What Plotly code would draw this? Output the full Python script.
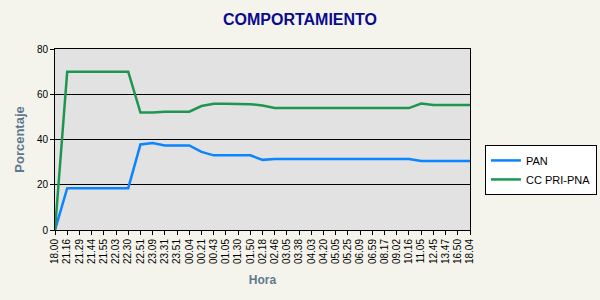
import plotly.graph_objects as go

horas = ["18.00", "21.16", "21.29", "21.44", "21.55", "22.03", "22.30", "22.51", "23.09",
         "23.31", "23.51", "00.04", "00.21", "00.43", "01.05", "01.30", "01.50", "02.18",
         "02.46", "03.05", "03.38", "04.03", "04.20", "05.05", "05.25", "06.09", "06.59",
         "08.17", "09.02", "10.16", "11.05", "12.45", "13.47", "16.50", "18.04"]

pan = [0, 18.5, 18.5, 18.5, 18.5, 18.5, 18.5, 37.8, 38.4, 37.4, 37.4, 37.4, 34.5, 33.0,
       33.0, 33.0, 33.0, 31.0, 31.4, 31.4, 31.4, 31.4, 31.4, 31.4, 31.4, 31.4, 31.4,
       31.4, 31.4, 31.4, 30.5, 30.5, 30.5, 30.5, 30.5]

cc = [0, 70, 70, 70, 70, 70, 70, 51.9, 51.9, 52.3, 52.3, 52.3, 54.8, 55.8, 55.8, 55.8,
      55.6, 55.0, 53.9, 53.9, 53.9, 53.9, 53.9, 53.9, 53.9, 53.9, 53.9, 53.9, 53.9,
      53.9, 55.9, 55.2, 55.2, 55.2, 55.2]

FONT = "Liberation Sans, Arial, sans-serif"

fig = go.Figure()
fig.add_trace(go.Scatter(x=horas, y=pan, name="PAN", mode="lines",
                         line=dict(color="#0A84FF", width=2.5)))
fig.add_trace(go.Scatter(x=horas, y=cc, name="CC PRI-PNA", mode="lines",
                         line=dict(color="#1E9650", width=2.5)))

fig.update_layout(
    width=600, height=300,
    margin=dict(l=55, r=130, t=49, b=70, autoexpand=False),
    paper_bgcolor="#F5F4EC",
    plot_bgcolor="#E2E2E2",
    font=dict(family=FONT, size=10, color="black"),
    title=dict(text="<b>COMPORTAMIENTO</b>", x=0.5, xanchor="center", y=0.935, yanchor="middle",
               font=dict(family=FONT, size=16, color="#0A0A8C")),
    showlegend=True,
    legend=dict(x=1.036, y=0.47, xanchor="left", yanchor="top",
                bgcolor="white", bordercolor="black", borderwidth=1,
                font=dict(family=FONT, size=11, color="black"),
                tracegroupgap=1),
)

fig.update_xaxes(
    type="category", range=[0, len(horas) - 1],
    tickmode="array", tickvals=horas, ticktext=horas,
    tickangle=-90, ticks="outside", ticklen=4, tickcolor="black",
    showline=True, linecolor="black", linewidth=1, mirror=True,
    showgrid=False, zeroline=False,
    tickfont=dict(family=FONT, size=10, color="black"),
    title=dict(text="<b>Hora</b>", font=dict(family=FONT, size=12, color="#5F7891"), standoff=12),
)
fig.update_yaxes(
    range=[0, 80], tickvals=[0, 20, 40, 60, 80],
    ticks="outside", ticklen=4, tickcolor="black",
    showline=True, linecolor="black", linewidth=1, mirror=True,
    showgrid=True, gridcolor="black", gridwidth=1, zeroline=False,
    tickfont=dict(family=FONT, size=10, color="black"),
    title=dict(text="<b>Porcentaje</b>", font=dict(family=FONT, size=13, color="#5F7891"), standoff=9),
)

fig.write_html("out.html")
